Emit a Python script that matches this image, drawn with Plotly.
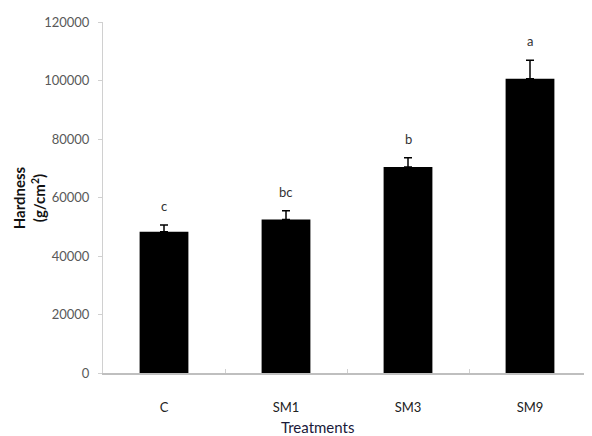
import plotly.graph_objects as go

categories = ["C", "SM1", "SM3", "SM9"]
hardness = [48300, 52500, 70400, 100600]
hardness_err = [2300, 3000, 3200, 6300]
letters = ["c", "bc", "b", "a"]
y_ticks = [0, 20000, 40000, 60000, 80000, 100000, 120000]

fig = go.Figure()
fig.add_trace(go.Bar(
    x=categories, y=hardness, width=0.4,
    marker=dict(color="black", line=dict(width=0)),
    error_y=dict(type="data", symmetric=False, array=hardness_err,
                 arrayminus=[0] * len(hardness_err),
                 color="black", thickness=1.5, width=4),
    showlegend=False,
))

for cat, v, e, lab in zip(categories, hardness, hardness_err, letters):
    fig.add_annotation(x=cat, y=v + e, text=lab, showarrow=False,
                       yanchor="bottom", yshift=9,
                       font=dict(family="Lato", size=13, color="#333333"))

fig.add_annotation(xref="paper", yref="paper", x=-0.152, y=0.5,
                   text="<b>Hardness<br>(g/cm<sup>2</sup>)</b>", textangle=-90,
                   showarrow=False, xanchor="center", yanchor="middle",
                   font=dict(family="Lato", size=15, color="#111111"))

fig.add_annotation(xref="paper", yref="paper", x=0.44, y=-0.155,
                   text="Treatments", showarrow=False,
                   xanchor="center", yanchor="middle",
                   font=dict(family="Lato", size=15, color="#1a1a3a"))

fig.update_layout(
    width=584, height=428,
    margin=dict(l=95, r=1, t=14, b=63),
    paper_bgcolor="white", plot_bgcolor="white",
    font=dict(family="Lato"),
    bargap=0.6,
)
fig.update_xaxes(
    type="category", showline=True, linecolor="#bfbfbf", linewidth=1.5,
    ticks="inside", tickson="boundaries", ticklen=4, tickcolor="#d0d0d0",
    tickfont=dict(family="Lato", size=13, color="#222222"),
    ticklabelstandoff=22, showgrid=False,
)
fig.update_yaxes(
    range=[0, 120000], tickvals=y_ticks, ticktext=[str(t) for t in y_ticks],
    showline=True, linecolor="#d0d0d0",
    linewidth=1, ticks="outside", ticklen=4, tickcolor="#d0d0d0",
    tickfont=dict(family="Lato", size=13, color="#595959"),
    ticklabelstandoff=6, showgrid=False, zeroline=False,
)

fig.write_html("out.html")
